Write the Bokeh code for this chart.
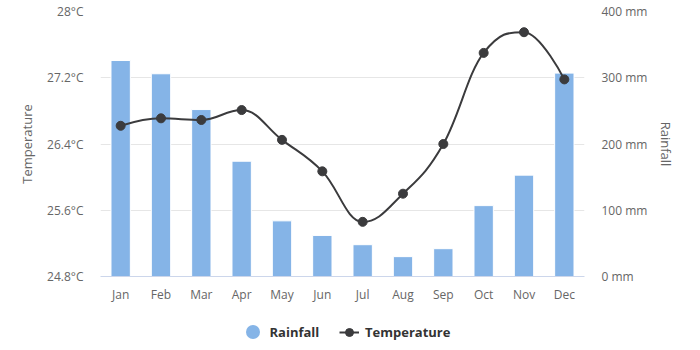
from bokeh.plotting import figure
from bokeh.layouts import column
from bokeh.models import (Range1d, FactorRange, LinearAxis, FixedTicker, CustomJSTickFormatter,
                          PrintfTickFormatter, Legend, LegendItem, ColumnDataSource)
from bokeh.embed import file_html
from bokeh.resources import INLINE

# ---- data ----
months = ["Jan", "Feb", "Mar", "Apr", "May", "Jun", "Jul", "Aug", "Sep", "Oct", "Nov", "Dec"]
rainfall = [326, 306, 252, 174, 84, 62, 48, 30, 42, 107, 153, 307]
temperature = [26.62, 26.71, 26.69, 26.81, 26.45, 26.07, 25.46, 25.80, 26.40, 27.50, 27.75, 27.18]
temp_ticks = [24.8, 25.6, 26.4, 27.2, 28.0]
rain_ticks = [0, 100, 200, 300, 400]

BAR = "#85b4e7"
LINE = "#3b3b3d"
GREY = "#666666"
FONT = "Open Sans"


def spline_segments(xs, ys, smoothing=1.5):
    """Cubic bezier control points in the style of a smoothed spline series."""
    n = len(xs)
    lc = [(xs[i], ys[i]) for i in range(n)]
    rc = [(xs[i], ys[i]) for i in range(n)]
    denom = smoothing + 1
    for i in range(1, n - 1):
        px, py = xs[i], ys[i]
        lx, ly = xs[i - 1], ys[i - 1]
        nx, ny = xs[i + 1], ys[i + 1]
        lcx = (smoothing * px + lx) / denom
        lcy = (smoothing * py + ly) / denom
        rcx = (smoothing * px + nx) / denom
        rcy = (smoothing * py + ny) / denom
        if rcx != lcx:
            corr = ((rcy - lcy) * (rcx - px)) / (rcx - lcx) + py - rcy
            lcy += corr
            rcy += corr
        if lcy > ly and lcy > py:
            lcy = max(ly, py); rcy = 2 * py - lcy
        elif lcy < ly and lcy < py:
            lcy = min(ly, py); rcy = 2 * py - lcy
        if rcy > ny and rcy > py:
            rcy = max(ny, py); lcy = 2 * py - rcy
        elif rcy < ny and rcy < py:
            rcy = min(ny, py); lcy = 2 * py - rcy
        lc[i] = (lcx, lcy)
        rc[i] = (rcx, rcy)
    seg = dict(x0=[], y0=[], x1=[], y1=[], cx0=[], cy0=[], cx1=[], cy1=[])
    for i in range(1, n):
        seg["x0"].append(xs[i - 1]); seg["y0"].append(ys[i - 1])
        seg["x1"].append(xs[i]); seg["y1"].append(ys[i])
        seg["cx0"].append(rc[i - 1][0]); seg["cy0"].append(rc[i - 1][1])
        seg["cx1"].append(lc[i][0]); seg["cy1"].append(lc[i][1])
    return seg


p = figure(width=700, height=305, x_range=FactorRange(*months, range_padding=0),
           y_range=Range1d(temp_ticks[0], temp_ticks[-1]),
           output_backend="svg", toolbar_location=None,
           min_border_left=100, min_border_right=116, min_border_top=11, min_border_bottom=28)
p.extra_y_ranges = {"rain": Range1d(rain_ticks[0], rain_ticks[-1])}
p.outline_line_color = None
p.background_fill_color = "white"
p.border_fill_color = "white"

# grid
p.xgrid.visible = False
p.ygrid.grid_line_color = "#e6e6e6"
p.ygrid.ticker = FixedTicker(ticks=temp_ticks)

# bars (rainfall)
src = ColumnDataSource(dict(month=months, rain=rainfall, temp=temperature))
p.vbar(x="month", top="rain", width=0.48, source=src, y_range_name="rain",
       fill_color=BAR, line_color="white", line_width=1)

# temperature spline
xs = [i + 0.5 for i in range(len(months))]
seg = spline_segments(xs, temperature)
p.bezier(x0="x0", y0="y0", x1="x1", y1="y1", cx0="cx0", cy0="cy0", cx1="cx1", cy1="cy1",
         source=ColumnDataSource(seg), line_color=LINE, line_width=2)
p.scatter(x="month", y="temp", source=src, marker="circle", size=9,
          fill_color=LINE, line_color=LINE)

# axes
yl = p.yaxis[0]
yl.ticker = FixedTicker(ticks=temp_ticks)
yl.formatter = CustomJSTickFormatter(code="return tick.toFixed(1).replace(/\\.0$/, '') + '°C';")
yl.axis_label = "Temperature"
yl.axis_label_standoff = 8

yr = LinearAxis(y_range_name="rain", ticker=FixedTicker(ticks=rain_ticks),
                formatter=PrintfTickFormatter(format="%d mm"), axis_label="Rainfall")
yr.axis_label_standoff = 7
p.add_layout(yr, "right")

for ax in (yl, yr):
    ax.axis_line_color = None
    ax.major_label_standoff = 17

xa = p.xaxis[0]
xa.axis_line_color = "#ccd6eb"
xa.major_label_standoff = 9

for ax in (yl, yr, xa):
    ax.major_tick_out = 0
    ax.major_tick_in = 0
    ax.minor_tick_out = 0
    ax.minor_tick_in = 0
    ax.major_label_text_font = FONT
    ax.major_label_text_font_size = "12px"
    ax.major_label_text_color = GREY
    ax.axis_label_text_font = FONT
    ax.axis_label_text_font_size = "13px"
    ax.axis_label_text_font_style = "normal"
    ax.axis_label_text_color = GREY

# ---- legend strip (frame is aligned with the main plot's frame) ----
lg = figure(width=700, height=45, x_range=Range1d(0, 1), y_range=Range1d(0, 1),
            x_axis_type=None, y_axis_type=None, output_backend="svg", toolbar_location=None,
            min_border=0)
lg.outline_line_color = None
lg.background_fill_color = "white"
lg.border_fill_color = "white"
lg.xgrid.visible = False
lg.ygrid.visible = False

# off-range placeholder renderers, used only for their legend glyphs
off = dict(x=[-10], y=[-10])
dummy_rain = lg.scatter(x="x", y="y", source=ColumnDataSource(off), marker="circle",
                        fill_color=BAR, line_color=None)
dummy_line = lg.line(x="x", y="y", source=ColumnDataSource(off), line_color=LINE, line_width=2)
dummy_pt = lg.scatter(x="x", y="y", source=ColumnDataSource(off), marker="circle",
                      fill_color=LINE, line_color=LINE)

common = dict(padding=0, margin=0, border_line_color=None, background_fill_alpha=0,
              label_text_font=FONT, label_text_font_style="bold", label_text_font_size="13px",
              label_text_color="#333333")
leg1 = Legend(items=[LegendItem(label="Rainfall", renderers=[dummy_rain])],
              location=(134.5, 1), glyph_width=35, glyph_height=35, label_standoff=-3, **common)
leg2 = Legend(items=[LegendItem(label="Temperature", renderers=[dummy_line, dummy_pt])],
              location=(239, 8.5), glyph_width=20, glyph_height=20, label_standoff=6, **common)
lg.add_layout(leg1)
lg.add_layout(leg2)

layout = column(p, lg, spacing=0)
open("out.html", "w").write(file_html(layout, INLINE))
